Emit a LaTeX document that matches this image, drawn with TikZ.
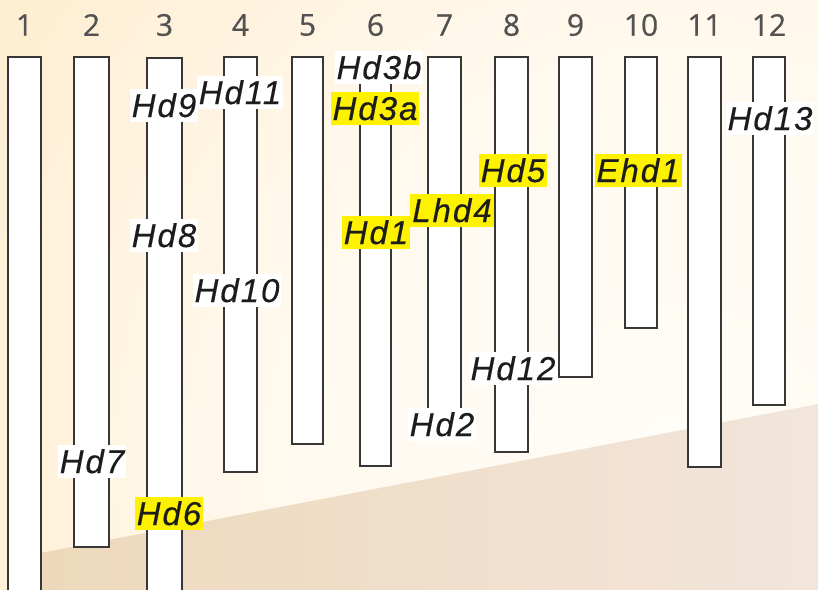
\documentclass[tikz,border=0pt]{standalone}
\usepackage{fontspec}
\setmainfont{Liberation Sans}
\newfontfamily\genefont[LetterSpace=6,FakeBold=0.4]{Liberation Sans}
\newfontfamily\numfont[FakeBold=0.6]{Open Sans}

\definecolor{glowA}{RGB}{255,253,248}
\definecolor{glowB}{RGB}{255,249,238}
\definecolor{glowC}{RGB}{254,232,194}
\definecolor{glowD}{RGB}{253,212,146}
\definecolor{tanleft}{RGB}{237,216,186}
\definecolor{tanright}{RGB}{242,229,219}
\definecolor{hlyellow}{RGB}{255,242,0}
\definecolor{numgray}{RGB}{82,82,82}
\definecolor{barline}{RGB}{55,55,55}
\definecolor{inkdark}{RGB}{28,28,28}

\pgfdeclareradialshading{warmglow}{\pgfpoint{0bp}{0bp}}{%
  color(0bp)=(glowA); color(12bp)=(glowB); color(30bp)=(glowC);
  color(48bp)=(glowD); color(50bp)=(glowD)}

\tikzset{
  chrom/.style={draw=barline, line width=1.1pt, fill=white},
  chromno/.style={font=\numfont\fontsize{30}{30}\selectfont, text=numgray, inner sep=0pt},
  gene/.style={font=\genefont\itshape\fontsize{33}{33}\selectfont, text=inkdark,
    inner xsep=2pt, inner ysep=4.5pt, text height=24pt, text depth=0pt},
  plain/.style={gene, fill=white},
  marked/.style={gene, fill=hlyellow},
}

\begin{document}
\begin{tikzpicture}[x=1pt, y=-1pt]
\useasboundingbox (0,0) rectangle (818,589);
\begin{scope}
  \clip (0,0) rectangle (818,589);
  % warm backdrop
  \path[shading=warmglow] (680,460) circle [radius=850];
  % tan ground band
  \path[left color=tanleft, right color=tanright]
    (30,555) -- (818,404) -- (818,600) -- (30,600) -- cycle;

  % chromosomes: left, right, top, bottom
  \foreach \n/\l/\r/\t/\b in {1/8/41/57/600, 2/74/109/57/547, 3/147/182/58/600,
      4/224/257/57/472, 5/292/323/57/444, 6/360/391/57/466, 7/428/461/57/430,
      8/495/528/57/452, 9/559/592/57/377, 10/625/657/57/328,
      11/688/721/57/467, 12/753/785/57/405}{
    \draw[chrom] (\l,\t) rectangle (\r,\b);
    \node[chromno] (n\n) at ({(\l+\r)/2},25) {\n};
  }
\end{scope}

% gene labels
\node[plain]  (hd9)  at (164,105) {Hd9};
\node[plain]  (hd11) at (240,92)  {Hd11};
\node[plain]  (hd3b) at (379,67)  {Hd3b};
\node[marked] (hd3a) at (375,108) {Hd3a};
\node[plain]  (hd13) at (770,118) {Hd13};
\node[plain]  (hd8)  at (164,235) {Hd8};
\node[plain]  (hd10) at (237,290) {Hd10};
\node[marked] (hd1)  at (376,232) {Hd1};
\node[marked] (lhd4) at (452,210) {Lhd4};
\node[marked] (hd5)  at (513,170) {Hd5};
\node[marked] (ehd1) at (638,170) {Ehd1};
\node[plain]  (hd12) at (513,368) {Hd12};
\node[plain]  (hd2)  at (442,424) {Hd2};
\node[plain]  (hd7)  at (92,461)  {Hd7};
\node[marked] (hd6)  at (169,513) {Hd6};
\end{tikzpicture}
\end{document}
